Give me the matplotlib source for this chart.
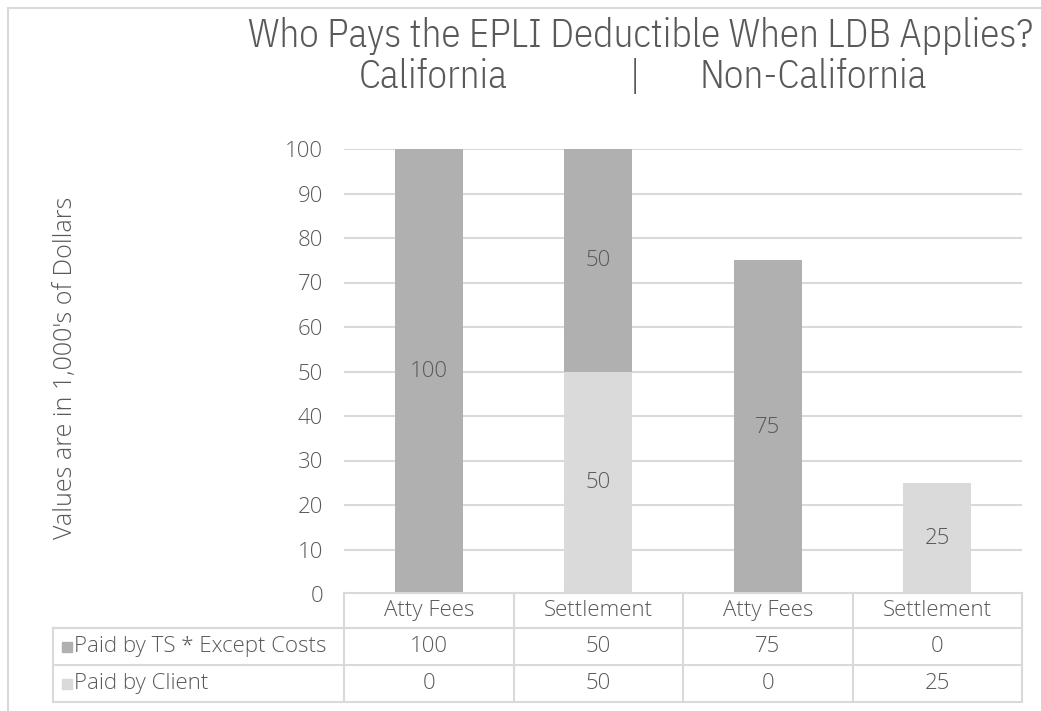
import matplotlib
matplotlib.use("Agg")
import matplotlib.pyplot as plt
from matplotlib.patches import Rectangle
from matplotlib.lines import Line2D

categories = ["Atty Fees", "Settlement", "Atty Fees", "Settlement"]
series_names = ["Paid by TS * Except Costs", "Paid by Client"]
paid_by_ts = [100, 50, 75, 0]
paid_by_client = [0, 50, 0, 25]
yticks = [0, 10, 20, 30, 40, 50, 60, 70, 80, 90, 100]

DARK = "#b0b0b0"
LIGHT = "#dadada"
TXT = "#595959"
GRID = "#d9d9d9"
FONT = "Open Sans"
FW = 300
FS = 16

W, H = 1041, 711
fig = plt.figure(figsize=(W / 100, H / 100), dpi=100)

def fx(px):
    return px / W

def fy(py):
    return 1 - py / H

# chart frame (cropped)
fig.add_artist(Line2D([fx(8), fx(8)], [fy(8), fy(711)], color=GRID, lw=1.5))
fig.add_artist(Line2D([fx(8), fx(1041)], [fy(8), fy(8)], color=GRID, lw=1.5))

L, R, T, B = 344, 1022, 149, 594
ax = fig.add_axes([fx(L), fy(B), fx(R - L), (B - T) / H])
ax.set_xlim(-0.5, len(categories) - 0.5)
ax.set_ylim(0, 100)
for s in ax.spines.values():
    s.set_visible(False)
ax.set_yticks(yticks)
ax.set_yticklabels([str(v) for v in yticks], fontsize=FS, color=TXT, family=FONT, weight=FW)
ax.tick_params(axis="y", length=0, pad=15)
ax.set_xticks([])
ax.grid(axis="y", color=GRID, lw=1.5)
ax.set_axisbelow(True)

x = list(range(len(categories)))
ax.bar(x, paid_by_client, width=0.4, color=LIGHT, zorder=2)
ax.bar(x, paid_by_ts, width=0.4, bottom=paid_by_client, color=DARK, zorder=2)
for i in x:
    if paid_by_client[i]:
        ax.text(i, paid_by_client[i] / 2, str(paid_by_client[i]), ha="center", va="center",
                fontsize=FS, color=TXT, family=FONT, weight=FW, zorder=3)
    if paid_by_ts[i]:
        ax.text(i, paid_by_client[i] + paid_by_ts[i] / 2, str(paid_by_ts[i]), ha="center",
                va="center", fontsize=FS, color=TXT, family=FONT, weight=FW, zorder=3)

fig.text(fx(66), fy(368), "Values are in 1,000's of Dollars", rotation=90, ha="center",
         va="center", fontsize=18, color=TXT, family=FONT, weight=FW)

# Title
TS = 28.3
tkw = dict(fontsize=TS, color=TXT, family="IBM Plex Sans Condensed", weight=300,
           va="baseline", ha="center")
fig.text(fx(641), fy(47), "Who Pays the EPLI Deductible When LDB Applies?", **tkw)
fig.text(fx(433), fy(88), "California", **tkw)
fig.text(fx(635), fy(88), "|", **tkw)
fig.text(fx(813), fy(88), "Non-California", **tkw)

# Data table
n = len(categories)
colx = [L + (R - L) * k / n for k in range(n + 1)]
rows_y = [593, 628, 665, 702]
LBL = 53

def hline(x0, x1, y):
    fig.add_artist(Line2D([fx(x0), fx(x1)], [fy(y), fy(y)], color=GRID, lw=1.5))

def vline(xp, y0, y1):
    fig.add_artist(Line2D([fx(xp), fx(xp)], [fy(y0), fy(y1)], color=GRID, lw=1.5))

hline(L, R, rows_y[0])
for y in rows_y[1:]:
    hline(LBL, R, y)
for xp in colx:
    vline(xp, rows_y[0], rows_y[-1])
vline(LBL, rows_y[1], rows_y[-1])

for k, c in enumerate(categories):
    fig.text(fx((colx[k] + colx[k + 1]) / 2), fy((rows_y[0] + rows_y[1]) / 2), c,
             ha="center", va="center", fontsize=FS, color=TXT, family=FONT, weight=FW)

for r, (name, vals, col) in enumerate([(series_names[0], paid_by_ts, DARK),
                                       (series_names[1], paid_by_client, LIGHT)]):
    yc = (rows_y[r + 1] + rows_y[r + 2]) / 2
    fig.add_artist(Rectangle((fx(62), fy(yc + 5)), fx(10), 10 / H, color=col))
    fig.text(fx(74), fy(yc), name, ha="left", va="center", fontsize=FS, color=TXT,
             family=FONT, weight=FW)
    for k, v in enumerate(vals):
        fig.text(fx((colx[k] + colx[k + 1]) / 2), fy(yc), str(v), ha="center", va="center",
                 fontsize=FS, color=TXT, family=FONT, weight=FW)

fig.savefig("out.png", dpi=100)
